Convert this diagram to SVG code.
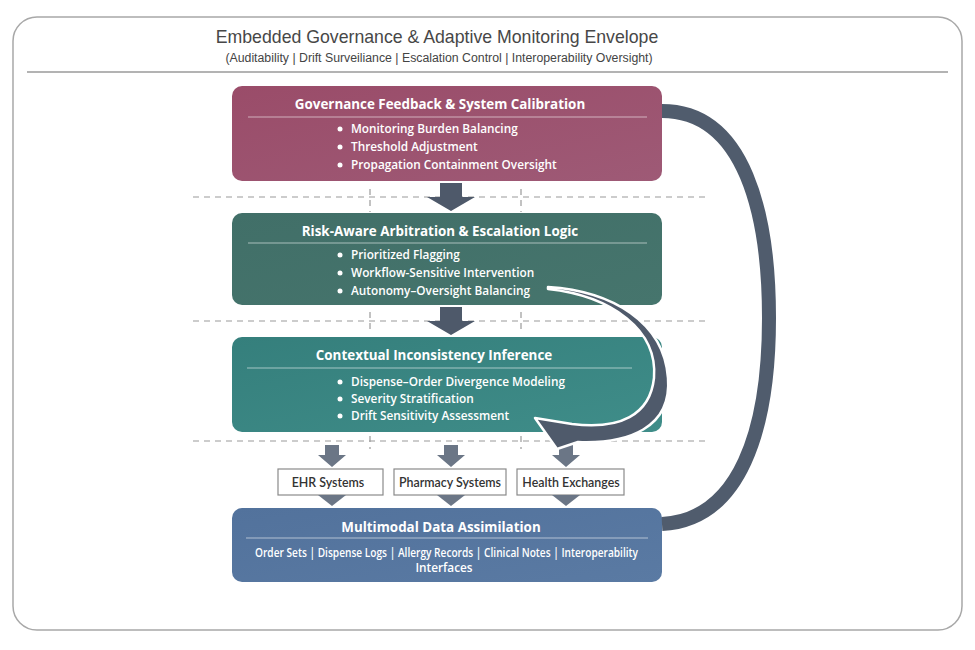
<svg xmlns="http://www.w3.org/2000/svg" width="975" height="650" viewBox="0 0 975 650">
<defs>
<linearGradient id="g1" x1="0" y1="0" x2="1" y2="1"><stop offset="0" stop-color="#9a4c69"/><stop offset="1" stop-color="#9e5a76"/></linearGradient>
<linearGradient id="g2" x1="0" y1="0" x2="1" y2="1"><stop offset="0" stop-color="#416f68"/><stop offset="1" stop-color="#46756d"/></linearGradient>
<linearGradient id="g3" x1="0" y1="0" x2="1" y2="1"><stop offset="0" stop-color="#357f7c"/><stop offset="1" stop-color="#3f8d89"/></linearGradient>
<linearGradient id="g4" x1="0" y1="0" x2="1" y2="1"><stop offset="0" stop-color="#52729c"/><stop offset="1" stop-color="#5a7aa3"/></linearGradient>
</defs>
<style>
.frame{fill:#fff;stroke:#a8a8a8;stroke-width:1.5}
.title{font-family:"Liberation Sans",Arial,sans-serif;font-size:17.7px;fill:#474747;text-anchor:middle}
.sub{font-family:"Liberation Sans",Arial,sans-serif;font-size:12.3px;fill:#444;text-anchor:middle}
.dash{stroke:#9a9a9a;stroke-width:1.2;stroke-dasharray:6 5;fill:none}
.btitle{font-family:"Open Sans",Lato,sans-serif;font-weight:700;font-size:13.4px;fill:#fff;text-anchor:middle}
.bul{font-family:"Open Sans",Lato,sans-serif;font-weight:600;font-size:11.8px;fill:#fff}
.dot{fill:#fff}
.div{stroke:#fff;stroke-opacity:0.55;stroke-width:1}
.src{fill:#fff;stroke:#8a8a8a;stroke-width:1.2}
.srct{font-family:Lato,"Open Sans",sans-serif;font-weight:600;font-size:12.4px;fill:#333;text-anchor:middle}
.blk{fill:#4e596a}
.sm{fill:#6b7686}
</style>
<rect class="frame" x="13" y="17" width="949" height="613" rx="24"/>
<text class="title" x="437" y="43">Embedded Governance &amp; Adaptive Monitoring Envelope</text>
<text class="sub" x="439" y="62">(Auditability | Drift Surveiliance | Escalation Control | Interoperability Oversight)</text>
<line x1="27" y1="72" x2="948" y2="72" stroke="#9a9a9a" stroke-width="1.5"/>

<g id="guides">
<line class="dash" x1="193" y1="197" x2="708" y2="197"/>
<line class="dash" x1="193" y1="321" x2="708" y2="321"/>
<line class="dash" x1="193" y1="441" x2="708" y2="441"/>
<line class="dash" x1="370" y1="189" x2="370" y2="212" stroke-dasharray="5 4"/>
<line class="dash" x1="521" y1="189" x2="521" y2="212" stroke-dasharray="5 4"/>
<line class="dash" x1="370" y1="312" x2="370" y2="334" stroke-dasharray="5 4"/>
<line class="dash" x1="521" y1="312" x2="521" y2="334" stroke-dasharray="5 4"/>
<line class="dash" x1="370" y1="436" x2="370" y2="449" stroke-dasharray="5 4"/>
<line class="dash" x1="521" y1="436" x2="521" y2="449" stroke-dasharray="5 4"/>
</g>

<g id="n-governance">
<rect x="232" y="86" width="430" height="95" rx="10" fill="url(#g1)"/>
<text class="btitle" x="440" y="109">Governance Feedback &amp; System Calibration</text>
<line class="div" x1="248" y1="117" x2="647" y2="117"/>
<circle class="dot" cx="340" cy="129" r="2.5"/><text class="bul" x="351" y="133">Monitoring Burden Balancing</text>
<circle class="dot" cx="340" cy="147" r="2.5"/><text class="bul" x="351" y="151">Threshold Adjustment</text>
<circle class="dot" cx="340" cy="165" r="2.5"/><text class="bul" x="351" y="169">Propagation Containment Oversight</text>
</g>

<g id="n-arbitration">
<rect x="232" y="213" width="430" height="92" rx="10" fill="url(#g2)"/>
<text class="btitle" x="440" y="236">Risk-Aware Arbitration &amp; Escalation Logic</text>
<line class="div" x1="248" y1="243" x2="647" y2="243"/>
<circle class="dot" cx="340" cy="255" r="2.5"/><text class="bul" x="351" y="259">Prioritized Flagging</text>
<circle class="dot" cx="340" cy="273" r="2.5"/><text class="bul" x="351" y="277">Workflow-Sensitive Intervention</text>
<circle class="dot" cx="340" cy="291" r="2.5"/><text class="bul" x="351" y="295">Autonomy–Oversight Balancing</text>
</g>

<g id="n-inference">
<rect x="232" y="337" width="430" height="95" rx="10" fill="url(#g3)"/>
<text class="btitle" x="434" y="360">Contextual Inconsistency Inference</text>
<line class="div" x1="247" y1="368" x2="632" y2="368"/>
<circle class="dot" cx="340" cy="382" r="2.5"/><text class="bul" x="351" y="386">Dispense–Order Divergence Modeling</text>
<circle class="dot" cx="340" cy="399" r="2.5"/><text class="bul" x="351" y="403">Severity Stratification</text>
<circle class="dot" cx="340" cy="416" r="2.5"/><text class="bul" x="351" y="420">Drift Sensitivity Assessment</text>
</g>

<g id="n-ehr">
<rect class="src" x="278" y="469" width="105" height="26"/>
<text class="srct" x="328" y="487">EHR Systems</text>
</g>
<g id="n-pharmacy">
<rect class="src" x="394" y="469" width="112" height="26"/>
<text class="srct" x="450" y="487">Pharmacy Systems</text>
</g>
<g id="n-exchanges">
<rect class="src" x="517" y="469" width="107" height="26"/>
<text class="srct" x="571" y="487">Health Exchanges</text>
</g>

<g id="n-assimilation">
<rect x="232" y="508" width="430" height="74" rx="10" fill="url(#g4)"/>
<text class="btitle" x="441" y="532">Multimodal Data Assimilation</text>
<line class="div" x1="246" y1="538" x2="648" y2="538"/>
<text class="bul" x="446.5" y="557" text-anchor="middle" font-size="11.3" textLength="383" lengthAdjust="spacingAndGlyphs">Order Sets | Dispense Logs | Allergy Records | Clinical Notes | Interoperability</text>
<text class="bul" x="444" y="572" text-anchor="middle" font-size="11.3">Interfaces</text>
</g>

<g id="connectors">
<path d="M662,111 C745,111 769,215 769,318 C769,430 740,520 662,524" fill="none" stroke="#505c6d" stroke-width="14"/>
<polygon class="blk" points="440,183 462,183 462,197 475,197 451,211 427,197 440,197"/>
<polygon class="blk" points="440,307 462,307 462,321 475,321 451,335 427,321 440,321"/>
<polygon class="sm" points="325,445 339,445 339,455 346,455 332,467 318,455 325,455"/>
<polygon class="sm" points="444,445 458,445 458,455 465,455 451,467 437,455 444,455"/>
<polygon class="sm" points="559,445 573,445 573,455 580,455 566,467 552,455 559,455"/>
<polygon class="sm" points="318,495 346,495 332,506"/>
<polygon class="sm" points="437,495 465,495 451,506"/>
<polygon class="sm" points="552,495 580,495 566,506"/>
<path d="M548,287 C612,291 664,322 668,378 C672,428 628,444 578,442 L557,449 L535,418 L572,424 C620,430 650,415 654,378 C658,330 612,296 548,289 Z" fill="#4f5a6b" stroke="#fff" stroke-width="2.5" stroke-linejoin="round"/>
</g>
</svg>
